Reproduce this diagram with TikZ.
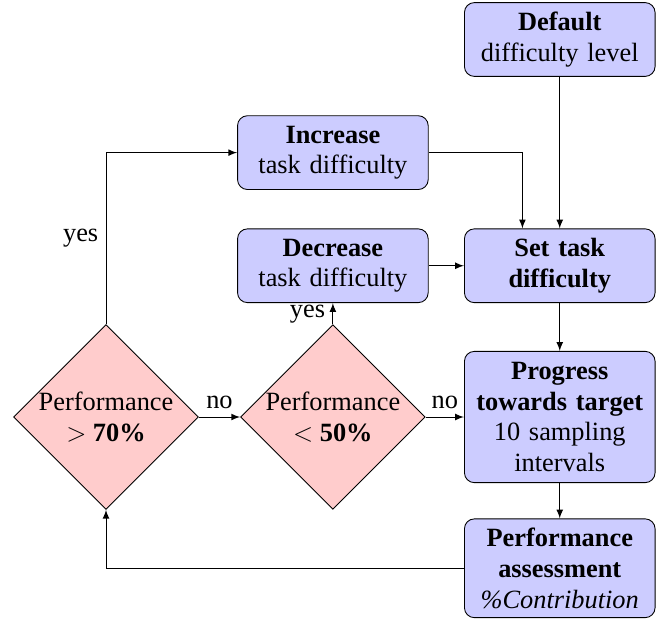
\documentclass[tikz,border=0pt]{standalone}
\usepackage{fontspec}
\setmainfont{Liberation Serif}
\usetikzlibrary{positioning,shapes,arrows}

\begin{document}
\begin{tikzpicture}[->,>=latex,auto,node distance=3.63cm,
  every node/.style={font=\fontsize{12}{14}\selectfont},
  block/.style={rectangle,rounded corners=4.5pt,draw,fill=blue!20,
    text width=2.75cm,align=center,minimum width=3.05cm,minimum height=1.18cm},
  decision/.style={diamond,aspect=1,draw,fill=red!20,align=center,
    inner sep=0pt,minimum size=2.93cm}]
  \useasboundingbox (-1.696,-3.248) rectangle (8.88,6.672);
  \node[decision] (gt) {Performance\\$>$ \textbf{70\%}};
  \node[decision] (lt) [right of=gt] {Performance\\$<$ \textbf{50\%}};
  \node[block] (prog) [right of=lt, minimum height=2.1cm]
    {\textbf{Progress towards target}\\10 sampling intervals};
  \node[block] (set) [above of=prog, node distance=2.42cm] {\textbf{Set task difficulty}};
  \node[block] (dec) [above of=lt, node distance=2.42cm] {\textbf{Decrease}\\task difficulty};
  \node[block] (inc) [above of=dec, node distance=1.81cm] {\textbf{Increase}\\task difficulty};
  \node[block] (def) [above of=set, node distance=3.62cm] {\textbf{Default}\\difficulty level};
  \node[block] (assess) [below of=prog, node distance=2.42cm, minimum height=1.58cm]
    {\textbf{Performance assessment}\\\textit{\%Contribution}};
  \path
     (def) edge (set)
     (dec) edge (set)
     (set) edge (prog)
     (prog) edge (assess)
     (gt) edge node {no} (lt)
     (lt) edge node {no} (prog)
     (lt) edge node {yes} (dec);
  \draw (inc) -| (set.135);
  \draw (gt) |- node[pos=0.25] {yes} (inc);
  \draw (assess) -| (gt);
\end{tikzpicture}
\end{document}
